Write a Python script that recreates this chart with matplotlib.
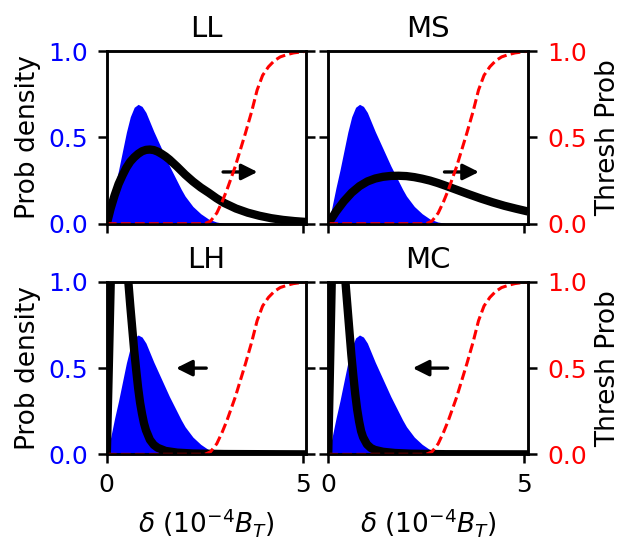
import matplotlib.pyplot as plt

# shared noise-like density (blue fill)
blue_x = [0, 0.1, 0.2, 0.3, 0.4, 0.5, 0.6, 0.7, 0.8, 0.9, 1.0, 1.1, 1.2, 1.3, 1.4, 1.5,
          1.6, 1.7, 1.8, 1.9, 2.0, 2.2, 2.4, 2.6, 2.8, 3.0, 5.1]
blue_y = [0, 0.10, 0.21, 0.31, 0.42, 0.53, 0.62, 0.675, 0.692, 0.68, 0.645, 0.59, 0.535,
          0.485, 0.435, 0.385, 0.335, 0.29, 0.245, 0.2, 0.16, 0.1, 0.058, 0.027, 0.01, 0.002, 0]

# threshold probability (red dashed, right axis)
red_x = [0, 2.5, 2.65, 2.81, 2.95, 3.07, 3.28, 3.54, 3.7, 3.84, 3.98, 4.13, 4.28,
         4.43, 4.6, 4.77, 5.1]
red_y = [0, 0, 0.015, 0.062, 0.13, 0.197, 0.331, 0.524, 0.65, 0.775, 0.86, 0.91, 0.945,
         0.967, 0.98, 0.99, 1.0]

# signal densities per condition (black)
ll_x = [0, 0.1, 0.2, 0.3, 0.4, 0.5, 0.6, 0.7, 0.8, 0.9, 1.0, 1.1, 1.2, 1.3, 1.4, 1.5,
        1.6, 1.8, 2.0, 2.2, 2.4, 2.6, 2.8, 3.0, 3.3, 3.6, 3.9, 4.2, 4.5, 4.8, 5.1]
ll_y = [0, 0.09, 0.165, 0.23, 0.28, 0.325, 0.36, 0.385, 0.405, 0.42, 0.428, 0.43, 0.427,
        0.418, 0.405, 0.39, 0.372, 0.33, 0.285, 0.245, 0.21, 0.18, 0.148, 0.12, 0.088,
        0.064, 0.046, 0.032, 0.022, 0.015, 0.01]
ms_x = [0, 0.2, 0.4, 0.6, 0.8, 1.0, 1.2, 1.4, 1.6, 1.8, 2.0, 2.2, 2.4, 2.6, 2.8, 3.0,
        3.3, 3.6, 3.9, 4.2, 4.5, 4.8, 5.1]
ms_y = [0, 0.07, 0.13, 0.18, 0.218, 0.245, 0.262, 0.272, 0.277, 0.278, 0.276, 0.27, 0.261,
        0.25, 0.236, 0.22, 0.195, 0.17, 0.146, 0.124, 0.104, 0.087, 0.071]
lh_x = [0, 0.1, 0.2, 0.3, 0.4, 0.5, 0.55, 0.6, 0.65, 0.7, 0.75, 0.8, 0.85, 0.9, 0.95, 1.0,
        1.1, 1.2, 1.3, 1.5, 1.8, 2.2, 3.0, 5.1]
lh_y = [0, 1.0, 1.8, 2.0, 1.6, 1.18, 1.0, 0.86, 0.73, 0.6, 0.49, 0.385, 0.3, 0.235, 0.18,
        0.14, 0.085, 0.055, 0.038, 0.02, 0.01, 0.005, 0.002, 0]
mc_x = [0, 0.09, 0.18, 0.27, 0.36, 0.44, 0.49, 0.54, 0.59, 0.64, 0.69, 0.74, 0.79, 0.84,
        0.89, 0.99, 1.09, 1.19, 1.4, 1.7, 2.1, 3.0, 5.1]
mc_y = [0, 1.0, 1.8, 2.0, 1.4, 1.0, 0.86, 0.72, 0.58, 0.46, 0.35, 0.26, 0.19, 0.135,
        0.1, 0.058, 0.037, 0.026, 0.015, 0.008, 0.004, 0.001, 0]

names = ["LL", "MS", "LH", "MC"]
curves = [(ll_x, ll_y), (ms_x, ms_y), (lh_x, lh_y), (mc_x, mc_y)]
arrow_from = [(2.97, 0.3), (2.97, 0.3), (2.54, 0.5), (3.05, 0.5)]
arrow_to = [(3.85, 0.3), (3.85, 0.3), (1.77, 0.5), (2.16, 0.5)]

FS_TICK = 18
FS_LABEL = 19
FS_TITLE = 21
TICK_KW = dict(labelsize=FS_TICK, length=6.7, width=1.8, pad=7)

fig, axes = plt.subplots(2, 2, figsize=(6.21, 5.39), dpi=100)
fig.subplots_adjust(left=0.172, right=0.850, top=0.905, bottom=0.157,
                    wspace=0.109, hspace=0.337)

for i, ax in enumerate(axes.flat):
    row, col = divmod(i, 2)
    cx, cy = curves[i]

    ax.fill_between(blue_x, blue_y, 0, color="blue", lw=0)
    ax.plot(cx, cy, color="black", lw=6, solid_capstyle="butt")
    ax.annotate("", xy=arrow_to[i], xytext=arrow_from[i],
                arrowprops=dict(arrowstyle="-|>", color="black", lw=2.4,
                                mutation_scale=24, shrinkA=0, shrinkB=0))
    ax.set_xlim(0, 5.1)
    ax.set_ylim(0, 1)
    ax.set_xticks([0, 5])
    ax.set_yticks([0, 0.5, 1.0])
    ax.set_title(names[i], fontsize=FS_TITLE, pad=10)
    ax.tick_params(axis="y", labelcolor="blue", **TICK_KW)
    ax.tick_params(axis="x", **TICK_KW)

    tw = ax.twinx()
    tw.plot(red_x, red_y, color="red", ls=(0, (3.2, 1.4)), lw=2.2)
    tw.set_ylim(0, 1)
    tw.set_yticks([0, 0.5, 1.0])
    tw.tick_params(axis="y", labelcolor="red", **TICK_KW)

    for a in (ax, tw):
        for sp in a.spines.values():
            sp.set_linewidth(1.8)

    if col == 0:
        ax.set_ylabel("Prob density", fontsize=FS_LABEL, labelpad=5)
        tw.set_yticklabels([])
    else:
        ax.set_yticklabels([])
        tw.set_ylabel("Thresh Prob", fontsize=FS_LABEL, labelpad=6)
    if row == 0:
        ax.set_xticklabels([])
    else:
        ax.set_xlabel(r"$\delta$ $(10^{-4}B_T)$", fontsize=FS_LABEL, labelpad=6)

plt.savefig("out.png", dpi=100)
